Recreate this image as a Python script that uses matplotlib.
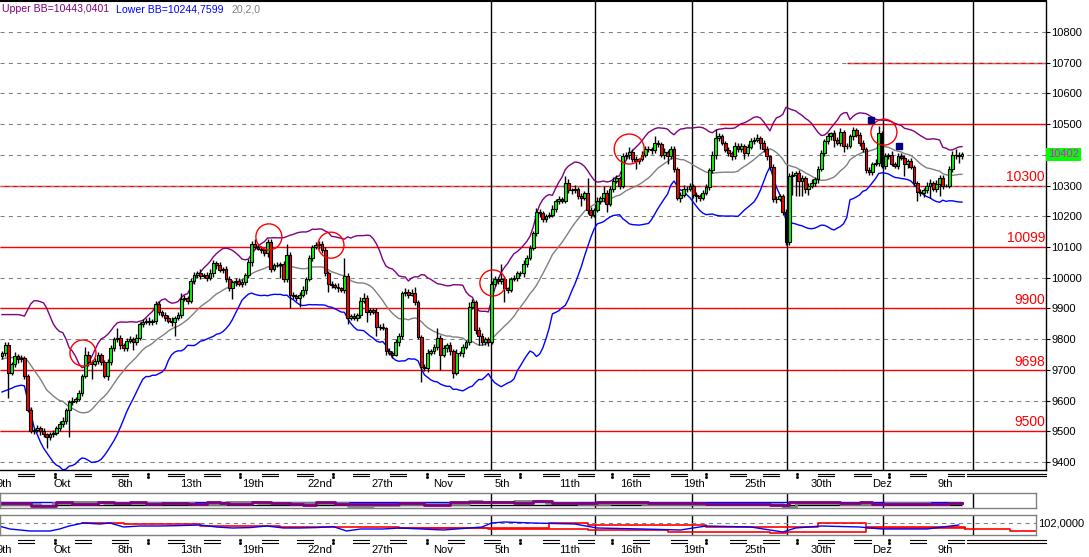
import matplotlib
matplotlib.use("Agg")
import matplotlib.pyplot as plt
from matplotlib.patches import Ellipse
import pandas as pd

plt.rcParams['font.family'] = ['Liberation Sans', 'DejaVu Sans']

W, H = 1089, 557

# 4h candles, index 0 .. 300 (close prices)
closes = [
    9755, 9780, 9690, 9720, 9745, 9735, 9740, 9680, 9570, 9500,
    9505, 9510, 9500, 9490, 9480, 9490, 9495, 9510, 9525, 9535,
    9570, 9595, 9600, 9605, 9625, 9680, 9750, 9725, 9720, 9730,
    9748, 9725, 9680, 9725, 9770, 9800, 9805, 9780, 9770, 9795,
    9800, 9790, 9805, 9850, 9855, 9860, 9855, 9860, 9915, 9890,
    9880, 9870, 9860, 9855, 9870, 9880, 9930, 9935, 9925, 9990,
    10010, 10015, 10005, 10010, 10000, 10015, 10048, 10040, 10025, 10030,
    9995, 9965, 9985, 9990, 9980, 9985, 10010, 10050, 10110, 10100,
    10095, 10090, 10080, 10115, 10030, 10040, 10040, 10045, 9995, 10075,
    9945, 9940, 9935, 9945, 9960, 9995, 10065, 10100, 10105, 10110,
    10090, 10015, 9980, 9975, 9970, 9965, 9960, 10005, 9870, 9875,
    9870, 9880, 9925, 9935, 9890, 9895, 9890, 9840, 9840, 9835,
    9760, 9755, 9750, 9790, 9810, 9950, 9955, 9945, 9950, 9920,
    9807, 9710, 9705, 9755, 9760, 9775, 9805, 9750, 9770, 9780,
    9760, 9690, 9755, 9755, 9775, 9790, 9905, 9920, 9830, 9810,
    9790, 9800, 9790, 9980, 9995, 9990, 9995, 9965, 9960, 9995,
    10000, 10015, 10015, 10045, 10065, 10098, 10145, 10215, 10210, 10190,
    10200, 10205, 10225, 10250, 10255, 10250, 10310, 10285, 10285, 10290,
    10265, 10260, 10275, 10220, 10205, 10220, 10250, 10260, 10275, 10240,
    10290, 10315, 10325, 10300, 10395, 10400, 10410, 10385, 10380, 10385,
    10400, 10420, 10420, 10415, 10440, 10435, 10400, 10410, 10395, 10420,
    10355, 10260, 10270, 10290, 10290, 10300, 10270, 10265, 10260, 10275,
    10295, 10350, 10400, 10455, 10460, 10440, 10415, 10405, 10395, 10430,
    10420, 10430, 10405, 10425, 10445, 10450, 10455, 10440, 10420, 10395,
    10360, 10255, 10255, 10265, 10215, 10115, 10330, 10335, 10340, 10315,
    10325, 10290, 10300, 10310, 10320, 10355, 10405, 10445, 10460, 10470,
    10450, 10440, 10475, 10430, 10430, 10460, 10480, 10465, 10440, 10420,
    10350, 10345, 10370, 10375, 10470, 10365, 10395, 10400, 10370, 10365,
    10395, 10390, 10370, 10380, 10360, 10310, 10280, 10275, 10285, 10300,
    10310, 10290, 10305, 10325, 10300, 10300, 10355, 10400, 10400, 10395,
    10402,
]
first_open = 9745

wick_up = [
    8, 10, 10, 6, 12, 8, 10, 6, 5, 8,
    6, 10, 8, 12, 6, 8, 10, 6, 8, 10,
    6, 8, 12, 6, 10, 8, 25, 10, 6, 8,
    10, 6, 8, 10, 12, 8, 30, 10, 6, 8,
    10, 8, 12, 6, 10, 8, 12, 6, 10, 8,
    6, 10, 8, 12, 6, 8, 20, 10, 6, 8,
    10, 8, 12, 6, 10, 15, 10, 8, 12, 6,
    8, 10, 6, 10, 8, 12, 6, 10, 8, 15,
    10, 8, 6, 10, 12, 8, 10, 6, 10, 35,
    8, 10, 6, 8, 12, 6, 10, 8, 12, 10,
    8, 10, 6, 10, 8, 12, 6, 60, 10, 8,
    10, 6, 12, 15, 10, 8, 6, 10, 8, 12,
    6, 10, 8, 12, 10, 6, 10, 8, 12, 20,
    8, 6, 10, 12, 8, 10, 30, 8, 12, 6,
    10, 8, 12, 6, 10, 8, 15, 10, 6, 8,
    10, 6, 8, 10, 12, 8, 50, 10, 6, 8,
    10, 8, 6, 12, 8, 10, 8, 12, 10, 6,
    8, 10, 12, 6, 10, 8, 20, 10, 8, 12,
    6, 10, 8, 50, 10, 8, 12, 6, 25, 10,
    8, 12, 10, 6, 12, 10, 15, 8, 10, 6,
    12, 10, 8, 6, 20, 10, 8, 12, 6, 10,
    8, 6, 10, 12, 8, 10, 6, 10, 8, 12,
    10, 8, 12, 30, 10, 8, 6, 10, 8, 12,
    10, 8, 6, 12, 10, 8, 12, 6, 10, 8,
    6, 10, 12, 8, 6, 10, 10, 12, 8, 10,
    8, 6, 10, 12, 8, 10, 12, 8, 10, 6,
    10, 8, 12, 6, 10, 8, 12, 6, 10, 8,
    6, 10, 8, 12, 25, 8, 10, 6, 12, 8,
    10, 12, 8, 6, 10, 8, 6, 10, 8, 12,
    10, 6, 12, 8, 10, 6, 10, 12, 20, 8,
    6,
]
wick_dn = [
    8, 10, 82, 6, 10, 12, 8, 10, 8, 6,
    10, 8, 12, 10, 35, 8, 10, 6, 8, 10,
    12, 88, 10, 8, 6, 10, 8, 12, 50, 8,
    10, 8, 6, 12, 8, 10, 8, 12, 10, 8,
    6, 25, 10, 8, 12, 6, 10, 8, 12, 10,
    8, 10, 6, 12, 45, 8, 12, 6, 10, 8,
    12, 10, 8, 6, 10, 8, 12, 10, 6, 8,
    10, 8, 35, 12, 6, 10, 8, 10, 12, 8,
    6, 10, 8, 12, 10, 8, 6, 40, 10, 8,
    45, 8, 10, 30, 8, 12, 6, 10, 8, 12,
    10, 8, 25, 10, 6, 12, 8, 10, 20, 8,
    6, 10, 12, 8, 35, 10, 8, 30, 10, 6,
    12, 8, 10, 6, 12, 10, 8, 12, 6, 10,
    8, 50, 10, 12, 6, 8, 10, 50, 8, 12,
    10, 15, 8, 10, 12, 6, 10, 8, 12, 30,
    8, 10, 12, 6, 8, 10, 12, 45, 10, 8,
    6, 10, 8, 12, 10, 6, 8, 10, 12, 8,
    10, 6, 8, 12, 10, 8, 6, 10, 12, 8,
    10, 25, 8, 12, 10, 8, 6, 10, 12, 25,
    8, 10, 6, 12, 8, 10, 12, 8, 25, 10,
    6, 8, 10, 12, 8, 10, 6, 12, 25, 8,
    10, 8, 12, 6, 10, 8, 12, 20, 10, 8,
    6, 10, 8, 12, 10, 8, 6, 10, 12, 8,
    10, 12, 20, 8, 6, 10, 8, 20, 10, 12,
    8, 10, 12, 6, 10, 10, 8, 60, 70, 50,
    50, 15, 20, 8, 10, 12, 6, 8, 10, 12,
    25, 8, 10, 20, 12, 6, 10, 8, 12, 10,
    8, 12, 10, 6, 10, 8, 12, 10, 6, 8,
    10, 8, 40, 12, 6, 10, 30, 8, 12, 10,
    40, 8, 10, 40, 12, 6, 8, 10, 12, 20,
    8,
]
black_bars = [245, 275]

# band values for the first 19 bars (before the 20-bar window is full)
bb_head_upper = [9880, 9880, 9880, 9880, 9880, 9880, 9878, 9875, 9895, 9915,
                 9925, 9925, 9922, 9918, 9900, 9875, 9850, 9835, 9825]
bb_head_mid = [9735, 9738, 9740, 9740, 9740, 9740, 9740, 9738, 9730, 9715,
               9700, 9685, 9670, 9652, 9634, 9625, 9615, 9607, 9600]
bb_head_lower = [9628, 9632, 9636, 9640, 9645, 9648, 9650, 9648, 9602, 9560,
                 9514, 9490, 9465, 9445, 9430, 9415, 9400, 9390, 9385]

level_values = [10300, 10099, 9900, 9698, 9500]
level_texts = ['10300', '10099', '9900', '9698', '9500']
solid_levels = [10099, 9900, 9698, 9500]
mixed_levels = [10300]
partial_levels = [10500, 10700]
partial_starts = [224.4, 264.0]

circle_x = [25.3, 83.4, 102.8, 153.4, 196.0, 275.6]
circle_y = [9755, 10133, 10106, 9983, 10419, 10474]
circle_r = [13, 13, 13, 13, 15, 13]
square_x = [271.7, 280.2]
square_y = [10515, 10429]

week_lines = [152.8, 185.3, 215.6, 245.3, 275.3, 303.4]
date_labels = ['9th', 'Okt', '8th', '13th', '19th', '22nd', '27th', 'Nov', '5th',
               '11th', '16th', '19th', '25th', '30th', 'Dez', '9th']
date_pos = [-1.6, 16.0, 36.0, 55.6, 75.0, 95.3, 115.6, 134.7, 154.0, 174.0,
            193.0, 212.8, 232.0, 252.8, 271.9, 292.2]
pair_marks = [7.5, 25.3, 36.9, 54.4, 65.6, 83.75, 94.7, 112.2, 123.75, 141.9,
              153.1, 171.6, 182.5, 199.7, 211.6, 230.0, 240.3, 257.5, 269.0,
              286.3, 298.1]
colon_marks = [16.6, 45.6, 74.4, 103.4, 132.8, 161.9, 190.6, 220.0, 248.4, 277.2]

# lower panel 1 (oscillator steps)
osc1_x = [0, 9, 17, 22, 30, 35, 40, 45, 50, 58, 64, 68, 71, 78, 84, 90, 94, 98,
          104, 110, 116, 120, 124, 132, 140, 152, 160, 166, 172, 180, 186, 196,
          202, 212, 220, 240, 246, 256, 262, 268, 272, 280, 292, 296, 300]
osc1_purple = [0.5, -0.3, 0.8, 0.4, 0.9, 0.5, 0.9, 0.3, 0.7, 0.4, 0.8, 0.5, 0.3,
               0.8, 0.5, 0.2, 0.0, 0.8, 0.4, 0.3, 0.2, 0.3, 0.5, 0.0, 0.8, 0.8,
               0.6, 1.3, 0.6, 0.5, 0.8, 0.8, 0.5, 0.5, 0.3, 0.1, 0.8, 0.8, 0.5,
               0.8, 0.3, 0.2, 0.2, 0.7, 0.7]
osc1_gx = [0, 12, 16, 22, 32, 45, 52, 60, 70, 80, 92, 100, 108, 116, 124, 132,
           146, 150, 160, 164, 170, 180, 190, 200, 212, 226, 244, 248, 262, 276,
           290, 296, 300]
osc1_gray = [0.3, -0.2, 0.5, 0.8, 0.7, 0.5, 0.6, 0.4, 0.8, 0.6, 0.5, 0.7, -0.3,
             0.0, 0.4, 0.3, 1.2, 0.9, 1.3, 1.2, 0.7, 0.4, 0.6, 0.3, 0.3, 0.2,
             -0.5, 0.6, 0.3, 0.5, 0.3, 0.6, 0.6]

# lower panel 2
osc2_x = [-1, 2.5, 8.75, 15, 18, 21, 25.4, 30.6, 33.75, 38, 43, 49.4, 55.6, 62,
          67, 72, 77.5, 82.7, 88, 93, 98.3, 103.5, 107.7, 112, 119, 124.4, 138,
          150, 153, 157, 166, 179, 186, 200, 212, 220, 234, 244, 248, 256, 268,
          275, 289, 299]
osc2_blue = [101.85, 101.70, 101.60, 101.60, 101.70, 101.85, 102.00, 101.95,
             102.00, 101.80, 101.85, 101.85, 101.87, 101.90, 101.80, 101.75,
             101.77, 101.85, 101.75, 101.75, 101.77, 101.82, 101.60, 101.70,
             101.70, 101.75, 101.65, 101.80, 102.00, 102.05, 102.00, 101.95,
             101.75, 101.70, 101.65, 101.85, 101.80, 101.55, 101.75, 101.85,
             101.80, 101.70, 101.70, 101.90]
red_hi_x = [25, 38, 62, 87, 124, 171, 183, 220, 255, 270, 301, 315, 324]
red_hi = [102.0, 101.95, 101.85, 101.80, 101.75, 102.0, 101.9, 101.8, 102.0,
          101.8, 101.7, 101.6, 101.6]
red_lo_x = [124, 152, 183, 208, 240, 245, 270, 301]
red_lo = [101.75, 101.70, 101.65, 101.55, 101.50, 101.55, 101.75, 101.70]


def px_box(x0, y0, x1, y1):
    return [x0 / W, 1 - y1 / H, (x1 - x0) / W, (y1 - y0) / H]


fig = plt.figure(figsize=(W / 100, H / 100), dpi=100)
fig.patch.set_facecolor('white')

ax = fig.add_axes(px_box(0, 1, 1046, 470))
ax1 = fig.add_axes(px_box(0, 493, 1036, 508))
ax2 = fig.add_axes(px_box(0, 515, 1036, 535))

xs = list(range(len(closes)))
opens = [first_open] + closes[:-1]
highs = [max(o, c) + u for o, c, u in zip(opens, closes, wick_up)]
lows = [min(o, c) - d for o, c, d in zip(opens, closes, wick_dn)]

s = pd.Series(closes, dtype=float)
mid = s.rolling(20).mean()
sd = s.rolling(20).std(ddof=0)
upper = mid + 2 * sd
lower = mid - 2 * sd
mid.iloc[:19] = bb_head_mid
upper.iloc[:19] = bb_head_upper
lower.iloc[:19] = bb_head_lower

x_left, x_right = -0.625, 326.25
ax.set_xlim(x_left, x_right)
ax.set_ylim(9374, 10901)

# grid + levels
ax.hlines(mixed_levels, x_left, x_right, colors='red', lw=1, zorder=1)
ax.hlines([10700], partial_starts[1], x_right, colors='red', lw=1, zorder=1)
ax.hlines(range(9400, 10801, 100), x_left, x_right, colors='#808080',
          linestyles=(0, (4, 4)), lw=0.75, zorder=1.5)
ax.hlines(solid_levels, x_left, x_right, colors='red', lw=1, zorder=1.55)
ax.hlines([10500], partial_starts[0], x_right, colors='red', lw=1, zorder=1.55)
ax.vlines(week_lines, 9374, 10901, colors='black', lw=1, zorder=1.6)

# bands
ax.plot(xs, upper, color='#800080', lw=1, zorder=2)
ax.plot(xs, mid, color='#808080', lw=1, zorder=2)
ax.plot(xs, lower, color='#0000FF', lw=1, zorder=2)

# candles
ax.vlines(xs, lows, highs, colors='black', lw=1, zorder=3)
body_col = []
for i, (o, c) in enumerate(zip(opens, closes)):
    if i in black_bars:
        body_col.append('black')
    elif c >= o:
        body_col.append('#00FF00')
    else:
        body_col.append('#FF0000')
ax.bar(xs, [abs(c - o) for o, c in zip(opens, closes)],
       bottom=[min(o, c) for o, c in zip(opens, closes)],
       width=0.9, color=body_col, edgecolor='black', lw=0.8, zorder=4)

# annotations
for cx, cy, r in zip(circle_x, circle_y, circle_r):
    ax.add_patch(Ellipse((cx, cy), 2 * r / 3.2, 2 * r * 3.256, fill=False,
                         edgecolor='red', lw=1, zorder=5))
ax.plot(square_x, square_y, 's', color='#000080', ms=5, zorder=5)

for v, t in zip(level_values, level_texts):
    ax.text(0.999, v + 6, t, transform=ax.get_yaxis_transform(), ha='right',
            va='bottom', color='red', fontsize=10)

# header
hdr_y = 1 - 8 / 469
ax.text(2 / 1046, hdr_y, 'Upper BB=10443,0401', transform=ax.transAxes,
        color='#800080', fontsize=7.6, va='center')
ax.text(116 / 1046, hdr_y, 'Lower BB=10244,7599', transform=ax.transAxes,
        color='#0000FF', fontsize=7.6, va='center')
ax.text(232 / 1046, hdr_y, '20,2,0', transform=ax.transAxes,
        color='#808080', fontsize=7.6, va='center')

# axes styling
yt = list(range(9400, 10801, 100))
ax.yaxis.tick_right()
ax.set_yticks(yt)
ax.set_yticklabels(['' if v == 10400 else str(v) for v in yt])
ax.tick_params(axis='y', labelsize=8, length=3, pad=1, colors='black')
ax.set_xticks([])
ax.spines['left'].set_visible(False)
for sp in ['top', 'bottom', 'right']:
    ax.spines[sp].set_color('black')
    ax.spines[sp].set_linewidth(1)
ax.spines['top'].set_linewidth(1.5)

ax.text(1048 / 1046, 10402, '10402', transform=ax.get_yaxis_transform(),
        color='#FF00FF', fontsize=8, va='center', ha='left',
        bbox=dict(boxstyle='square,pad=0.15', fc='#00FF00', ec='none'))


def time_axis(a, y_lab, y_pair, y_colon):
    tr = a.get_xaxis_transform()
    for p, t in zip(date_pos, date_labels):
        a.text(p, y_lab, t, transform=tr, ha='left', va='center', fontsize=8,
               clip_on=False)
    for p in pair_marks:
        for yy in y_pair:
            a.plot([p - 2.6, p + 2.6], [yy, yy], color='black', lw=0.8,
                   transform=tr, clip_on=False)
    for yy in y_pair:
        a.plot([301.6, 326.25], [yy, yy], color='black', lw=0.8,
               transform=tr, clip_on=False)
    for p in colon_marks:
        a.plot([p, p], y_colon, 's', color='black', ms=1, transform=tr,
               clip_on=False)


time_axis(ax, (470 - 484) / 469, [(470 - 473.5) / 469, (470 - 476) / 469],
          [(470 - 473.5) / 469, (470 - 476.5) / 469])

# lower panels
p_right = 1034 / 3.2
for a in (ax1, ax2):
    a.set_xlim(x_left, p_right)
    a.set_xticks([])
    a.set_yticks([])
    for sp in a.spines.values():
        sp.set_color('#808080')
        sp.set_linewidth(1)

ax1.set_ylim(-0.9, 3.6)
ax1.vlines(week_lines, -0.9, 3.6, colors='black', lw=1)
ax1.hlines([1.0], x_left, 300, colors='#0000FF', lw=1)
ax1.hlines([0.0], x_left, 300, colors='black', lw=1)
ax1.step(osc1_gx, osc1_gray, where='post', color='#808080', lw=2)
ax1.step(osc1_x, osc1_purple, where='post', color='#800080', lw=2)

ax2.set_ylim(101.4, 102.4)
ax2.vlines(week_lines, 101.4, 102.4, colors='black', lw=1)
ax2.hlines([102.0], x_left, p_right, colors='#808080', linestyles=(0, (4, 4)), lw=0.75)
ax2.step(red_hi_x, red_hi, where='post', color='red', lw=1.2)
ax2.step(red_lo_x, red_lo, where='post', color='red', lw=1.2)
ax2.plot(osc2_x, osc2_blue, color='#0000FF', lw=1)
ax2.text(1038 / 1036, 102.0, '102,0000', transform=ax2.get_yaxis_transform(),
         fontsize=8, va='center', ha='left')

time_axis(ax2, (535 - 550) / 20, [(535 - 540) / 20, (535 - 542.5) / 20],
          [(535 - 540) / 20, (535 - 543) / 20])

fig.savefig('out.png', dpi=100)
